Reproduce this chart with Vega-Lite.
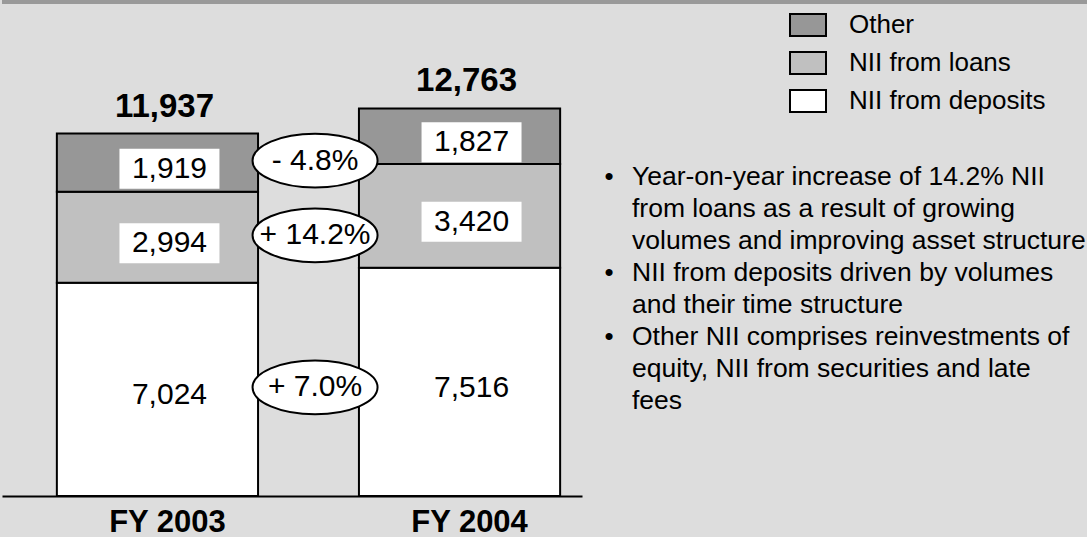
{
  "$schema": "https://vega.github.io/schema/vega-lite/v6.json",
  "background": "#dddddd",
  "padding": 0,
  "autosize": {"type": "pad"},
  "config": {
    "font": "Liberation Sans",
    "view": {"stroke": null},
    "concat": {"spacing": 0}
  },
  "datasets": {
    "nii": [
      {"year": "FY 2003", "segment": "NII from deposits", "value": 7024},
      {"year": "FY 2003", "segment": "NII from loans", "value": 2994},
      {"year": "FY 2003", "segment": "Other", "value": 1919},
      {"year": "FY 2004", "segment": "NII from deposits", "value": 7516},
      {"year": "FY 2004", "segment": "NII from loans", "value": 3420},
      {"year": "FY 2004", "segment": "Other", "value": 1827}
    ],
    "notes": [
      {"line": 1, "bullet": true, "text": "Year-on-year increase of 14.2% NII"},
      {"line": 2, "bullet": false, "text": "from loans as a result of growing"},
      {"line": 3, "bullet": false, "text": "volumes and improving asset structure"},
      {"line": 4, "bullet": true, "text": "NII from deposits driven by volumes"},
      {"line": 5, "bullet": false, "text": "and their time structure"},
      {"line": 6, "bullet": true, "text": "Other NII comprises reinvestments of"},
      {"line": 7, "bullet": false, "text": "equity, NII from securities and late"},
      {"line": 8, "bullet": false, "text": "fees"}
    ]
  },
  "bounds": "flush",
  "hconcat": [
    {
      "width": 580,
      "height": 494,
      "view": {"stroke": "#999999", "strokeWidth": 4, "strokeDash": [580, 3000]},
      "data": {"name": "nii"},
      "transform": [
        {"stack": "value", "groupby": ["year"], "sort": [{"field": "segment", "order": "ascending"}], "as": ["v0", "v1"]},
        {"calculate": "(datum.v0 + datum.v1) / 2", "as": "mid"},
        {"joinaggregate": [{"op": "sum", "field": "value", "as": "total"}], "groupby": ["year"]}
      ],
      "encoding": {
        "x": {
          "field": "year",
          "type": "nominal",
          "scale": {"paddingInner": 0.334, "paddingOuter": 0.127, "align": 0.715},
          "axis": {
            "title": null,
            "labelAngle": 0,
            "labelFontSize": 31,
            "labelFontWeight": "bold",
            "labelColor": "black",
            "labelPadding": 11,
            "labelOffset": 10,
            "ticks": false,
            "grid": false,
            "domainColor": "black",
            "domainWidth": 2
          }
        }
      },
      "layer": [
        {
          "mark": {"type": "bar", "stroke": "black", "strokeWidth": 2},
          "encoding": {
            "y": {"field": "v1", "type": "quantitative", "scale": {"domain": [0, 16270], "nice": false}, "axis": null},
            "y2": {"field": "v0"},
            "color": {
              "field": "segment",
              "type": "nominal",
              "scale": {"domain": ["Other", "NII from loans", "NII from deposits"], "range": ["#979797", "#c0c0c0", "#ffffff"]},
              "legend": {
                "orient": "none",
                "legendX": 787,
                "legendY": 4,
                "title": null,
                "labelFontSize": 26,
                "labelColor": "black",
                "labelFont": "Liberation Sans",
                "labelLimit": 0,
                "symbolType": "M-1,-0.611H1V0.611H-1Z",
                "symbolSize": 1296,
                "symbolStrokeColor": "black",
                "symbolStrokeWidth": 2,
                "symbolOpacity": 1,
                "rowPadding": 4,
                "labelOffset": 22
              }
            }
          }
        },
        {
          "transform": [{"filter": "datum.segment !== 'NII from deposits'"}],
          "mark": {"type": "point", "shape": "M-1,-0.4H1V0.4H-1Z", "size": 10000, "filled": true, "fill": "white", "opacity": 1, "strokeWidth": 0, "xOffset": 12, "yOffset": 6},
          "encoding": {
            "y": {"field": "mid", "type": "quantitative", "scale": {"domain": [0, 16270], "nice": false}}
          }
        },
        {
          "mark": {"type": "text", "fontSize": 30, "dx": 12, "dy": 6, "baseline": "middle", "color": "black"},
          "encoding": {
            "y": {"field": "mid", "type": "quantitative", "scale": {"domain": [0, 16270], "nice": false}},
            "text": {"field": "value", "type": "quantitative", "format": ","}
          }
        },
        {
          "transform": [{"filter": "datum.segment === 'Other'"}],
          "mark": {"type": "text", "fontSize": 33, "fontWeight": "bold", "dx": 7, "dy": -17, "baseline": "alphabetic", "color": "black"},
          "encoding": {
            "y": {"field": "total", "type": "quantitative", "scale": {"domain": [0, 16270], "nice": false}},
            "text": {"field": "total", "type": "quantitative", "format": ","}
          }
        },
        {
          "transform": [
            {"filter": "datum.year === 'FY 2003'"},
            {"lookup": "segment", "from": {"data": {"values": [
              {"segment": "Other", "change": "- 4.8%"},
              {"segment": "NII from loans", "change": "+ 14.2%"},
              {"segment": "NII from deposits", "change": "+ 7.0%"}
            ]}, "key": "segment", "fields": ["change"]}}
          ],
          "layer": [
            {
              "mark": {"type": "point", "shape": "M-1,0C-1,-0.2375,-0.5523,-0.43,0,-0.43C0.5523,-0.43,1,-0.2375,1,0C1,0.2375,0.5523,0.43,0,0.43C-0.5523,0.43,-1,0.2375,-1,0Z", "size": 15625, "filled": true, "fill": "white", "stroke": "black", "strokeWidth": 2, "opacity": 1, "xOffset": 57, "yOffset": -2},
              "encoding": {
                "x": {"field": "year", "type": "nominal", "bandPosition": 1},
                "y": {"field": "mid", "type": "quantitative", "scale": {"domain": [0, 16270], "nice": false}}
              }
            },
            {
              "mark": {"type": "text", "fontSize": 30, "dx": 57, "dy": -2, "baseline": "middle", "color": "black"},
              "encoding": {
                "x": {"field": "year", "type": "nominal", "bandPosition": 1},
                "y": {"field": "mid", "type": "quantitative", "scale": {"domain": [0, 16270], "nice": false}},
                "text": {"field": "change", "type": "nominal"}
              }
            }
          ]
        }
      ]
    },
    {
      "width": 507,
      "height": 537,
      "view": {"stroke": "#999999", "strokeWidth": 4, "strokeDash": [507, 3000]},
      "data": {"name": "notes"},
      "encoding": {
        "y": {"field": "line", "type": "ordinal", "scale": {"type": "point", "range": [175, 399], "padding": 0}, "axis": null}
      },
      "layer": [
        {
          "mark": {"type": "text", "align": "left", "baseline": "middle", "fontSize": 26.5, "dx": -203.5, "color": "black"},
          "encoding": {"text": {"field": "text", "type": "nominal"}}
        },
        {
          "transform": [{"filter": "datum.bullet"}],
          "mark": {"type": "text", "align": "left", "baseline": "middle", "fontSize": 26, "dx": -231, "text": "•", "color": "black"},
          "encoding": {}
        }
      ]
    }
  ]
}
